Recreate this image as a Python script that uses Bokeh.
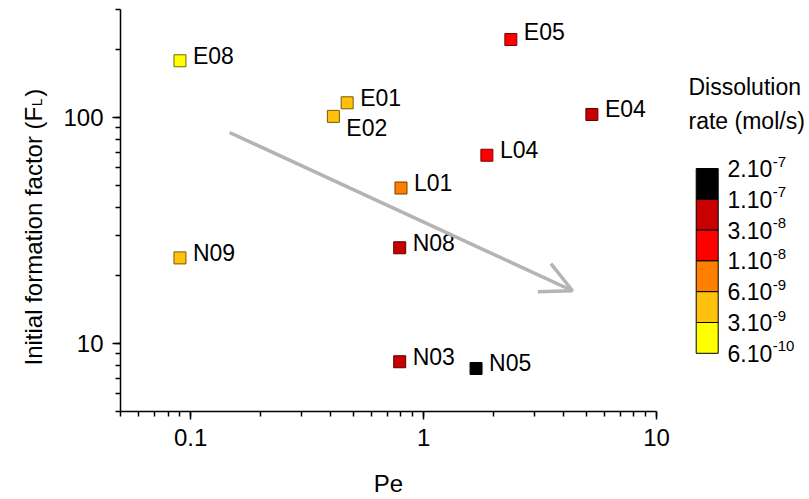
import math
from bokeh.plotting import figure
from bokeh.models import (Range1d, FixedTicker, CustomJSTickFormatter, Arrow,
                          OpenHead, ColumnDataSource)
from bokeh.layouts import row
from bokeh.embed import file_html
from bokeh.resources import INLINE
from bokeh.core.properties import value

# ---------------- data ----------------
samples = ["E08", "E01", "E02", "E05", "E04", "L04", "L01", "N08", "N09", "N03", "N05"]
pe = [0.09, 0.47, 0.41, 2.37, 5.28, 1.87, 0.80, 0.79, 0.09, 0.79, 1.68]
fl = [178, 116, 101, 221, 103, 68, 48.7, 26.5, 23.9, 8.3, 7.75]
# dissolution-rate class: 0 = 6e-10..3e-9 ... 5 = 1e-7..2e-7
rate_class = [0, 1, 1, 3, 4, 3, 2, 4, 1, 4, 5]

legend_mantissa = ["2.10", "1.10", "3.10", "1.10", "6.10", "3.10", "6.10"]
legend_exponent = ["-7", "-7", "-8", "-8", "-9", "-9", "-10"]
legend_title = ["Dissolution", "rate (mol/s)"]

x_ticks = [0.1, 1, 10]
y_ticks = [10, 100]
x_range = (0.05, 10)
y_range = (5, 300)
x_title = "Pe"
y_title = ["Initial formation factor (F", "L", ")"]

arrow_start = (0.147, 85.7)
arrow_end = (4.36, 17.1)

# ---------------- style ----------------
FONT = "Liberation Sans"
class_colors = ["#ffff00", "#ffc10e", "#ff8000", "#ff0000", "#c80000", "#000000"]
class_edges = ["#6e6e00", "#7a5a00", "#7a3c00", "#800000", "#5a0000", "#000000"]

H = 499
W_YL, W_MAIN, W_LEG = 58, 612, 139
FR_L, FR_R, FR_T, FR_B = 120, 656, 9, 411  # frame edges in page pixels


def side_fig(width, x0):
    f = figure(width=width, height=H, x_range=Range1d(x0, x0 + width),
               y_range=Range1d(FR_B, FR_T), x_axis_location=None,
               y_axis_location=None, output_backend="svg", toolbar_location=None,
               min_border_left=0, min_border_right=0,
               min_border_top=FR_T, min_border_bottom=H - FR_B)
    f.outline_line_color = None
    for g in f.grid:
        g.visible = False
    return f


# ---------------- left strip: y-axis title ----------------
yl = side_fig(W_YL, 0)
YS, SS = 24, 14
y0 = 365
main_len = 10.781 * YS
yl.text(x=[33], y=[y0], text=[y_title[0]], angle=math.pi / 2,
        text_font=value(FONT), text_font_size=f"{YS}px", text_color="black",
        text_baseline="alphabetic", text_align="left")
yl.text(x=[36.5], y=[y0 - main_len - 0.5], text=[y_title[1]], angle=math.pi / 2,
        text_font=value(FONT), text_font_size=f"{SS}px", text_color="black",
        text_baseline="alphabetic", text_align="left")
yl.text(x=[33], y=[y0 - main_len - 0.611 * SS - 1.5], text=[y_title[2]],
        angle=math.pi / 2,
        text_font=value(FONT), text_font_size=f"{YS}px", text_color="black",
        text_baseline="alphabetic", text_align="left")

# ---------------- main plot ----------------
p = figure(width=W_MAIN, height=H, x_axis_type="log", y_axis_type="log",
           x_range=Range1d(*x_range), y_range=Range1d(*y_range),
           output_backend="svg", toolbar_location=None,
           min_border_left=FR_L - W_YL, min_border_right=W_YL + W_MAIN - FR_R,
           min_border_top=FR_T, min_border_bottom=H - FR_B)
p.outline_line_color = None
p.xgrid.visible = False
p.ygrid.visible = False


def minor(lo, hi):
    out = []
    e = math.floor(math.log10(lo)) - 1
    while 10 ** e <= hi:
        for m in range(1, 10):
            v = m * 10 ** e
            if lo <= v <= hi:
                out.append(v)
        e += 1
    return out


p.xaxis.ticker = FixedTicker(ticks=x_ticks, minor_ticks=minor(*x_range))
p.yaxis.ticker = FixedTicker(ticks=y_ticks, minor_ticks=minor(*y_range))
p.xaxis.formatter = CustomJSTickFormatter(code="return String(Math.round(tick*1000)/1000)")
p.yaxis.formatter = CustomJSTickFormatter(code="return String(Math.round(tick*1000)/1000)")

for ax in (p.xaxis, p.yaxis):
    ax.axis_line_color = "black"
    ax.axis_line_width = 1.5
    ax.major_tick_line_color = "black"
    ax.major_tick_line_width = 1.5
    ax.minor_tick_line_color = "black"
    ax.minor_tick_line_width = 1.5
    ax.major_tick_out = 8
    ax.major_tick_in = 0
    ax.minor_tick_out = 5
    ax.minor_tick_in = 0
    ax.major_label_text_font = FONT
    ax.major_label_text_font_size = "24px"
    ax.major_label_text_color = "black"
p.xaxis.major_label_standoff = 9
p.yaxis.major_label_standoff = 9
p.xaxis.axis_label = x_title
p.xaxis.axis_label_text_font = FONT
p.xaxis.axis_label_text_font_size = "24px"
p.xaxis.axis_label_text_font_style = "normal"
p.xaxis.axis_label_text_color = "black"
p.xaxis.axis_label_standoff = 21

# arrow
p.add_layout(Arrow(x_start=arrow_start[0], y_start=arrow_start[1],
                   x_end=arrow_end[0], y_end=arrow_end[1],
                   line_color="#b4b4b4", line_width=3.5,
                   end=OpenHead(size=31, line_color="#b4b4b4", line_width=3.5)))

# points
label_dy = {"E02": 12, "E05": -8}
src = ColumnDataSource(dict(
    x=pe, y=fl, name=samples,
    fill=[class_colors[c] for c in rate_class],
    edge=[class_edges[c] for c in rate_class],
    dy=[label_dy.get(s, -5) for s in samples],
))
p.scatter("x", "y", source=src, marker="square", size=12,
          fill_color="fill", line_color="edge", line_width=1)
p.text("x", "y", text="name", source=src, x_offset=13, y_offset="dy",
       text_font=value(FONT), text_font_size="23px", text_color="black",
       text_baseline="middle", text_align="left")

# ---------------- legend (colour scale) ----------------
X0 = W_YL + W_MAIN
leg = side_fig(W_LEG, X0)

top, step = 168.0, 30.8
n = len(class_colors)
tops = [top + i * step for i in range(n)]
bots = [t + step for t in tops]
leg.quad(left=695.7, right=717.7, top=tops, bottom=bots,
         fill_color=list(reversed(class_colors)), line_color="black", line_width=1)

bounds = [top + i * step for i in range(n + 1)]
LS, ES = 23, 15
leg.text(x=[727] * len(bounds), y=bounds, text=legend_mantissa,
         text_font=value(FONT), text_font_size=f"{LS}px", text_color="black",
         text_baseline="middle", text_align="left")
leg.text(x=[727 + 1.946 * LS + 0.5] * len(bounds), y=[b - 7 for b in bounds],
         text=legend_exponent,
         text_font=value(FONT), text_font_size=f"{ES}px", text_color="black",
         text_baseline="middle", text_align="left")
leg.text(x=[688, 688], y=[86.7, 120], text=legend_title,
         text_font=value(FONT), text_font_size="23px", text_color="black",
         text_baseline="middle", text_align="left")

layout = row(yl, p, leg)
open("out.html", "w").write(file_html(layout, INLINE))
